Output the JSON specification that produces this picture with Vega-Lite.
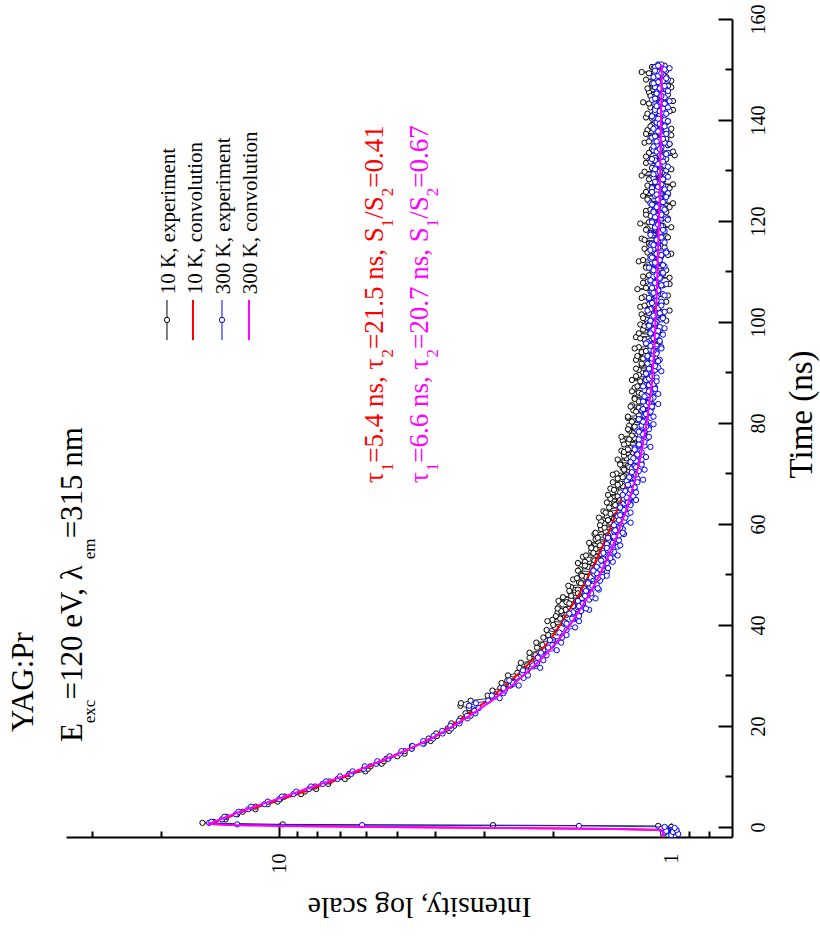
{
  "$schema": "https://vega.github.io/schema/vega-lite/v6.json",
  "width": 666,
  "height": 818,
  "autosize": {"type": "none"},
  "padding": {"left": 66, "top": 19, "right": 88, "bottom": 100},
  "background": "white",
  "datasets": {
    "k10": [
      {"t":-1.6,"i":0.98},{"t":-1.2,"i":1.04},{"t":-0.8,"i":0.97},{"t":-0.4,"i":1.02},{"t":0.0,"i":1.0},
      {"t":0.2,"i":1.08},{"t":0.35,"i":2.85},{"t":0.5,"i":9.8},{"t":0.8,"i":15.7},
      {"t":1.0,"i":14.7},{"t":1.5,"i":13.7},{"t":2.0,"i":13.65},{"t":2.5,"i":12.8},{"t":3.0,"i":12.4},
      {"t":3.5,"i":11.5},{"t":4.0,"i":11.5},{"t":4.5,"i":10.7},{"t":5.0,"i":10.1},{"t":5.5,"i":9.95},
      {"t":6.0,"i":9.7},{"t":6.5,"i":8.8},{"t":7.0,"i":8.6},{"t":7.5,"i":8.05},{"t":8.0,"i":8.1},
      {"t":8.5,"i":7.5},{"t":9.0,"i":7.45},{"t":9.5,"i":6.8},{"t":10.0,"i":6.68},{"t":10.5,"i":6.63},
      {"t":11.0,"i":6.03},{"t":11.5,"i":5.94},{"t":12.0,"i":5.85},{"t":12.5,"i":5.48},{"t":13.0,"i":5.41},
      {"t":13.5,"i":5.33},{"t":14.0,"i":5.0},{"t":14.5,"i":4.79},{"t":15.0,"i":4.79},{"t":15.5,"i":4.59},
      {"t":16.0,"i":4.59},{"t":16.5,"i":4.28},{"t":17.0,"i":4.11},{"t":17.5,"i":4.16},{"t":18.0,"i":3.96},
      {"t":18.5,"i":3.98},{"t":19.0,"i":3.69},{"t":19.5,"i":3.72},{"t":20.0,"i":3.58},{"t":20.5,"i":3.64},
      {"t":21.0,"i":3.46},{"t":21.5,"i":3.45},{"t":22.0,"i":3.25},{"t":22.5,"i":3.35},{"t":23.0,"i":3.18},
      {"t":23.5,"i":3.28},{"t":24.0,"i":3.45},{"t":24.5,"i":3.44},{"t":25.0,"i":3.25},{"t":25.5,"i":2.9},
      {"t":26.0,"i":2.94},{"t":26.5,"i":2.74},{"t":27.0,"i":2.86},{"t":27.5,"i":2.73},{"t":28.0,"i":2.57},
      {"t":28.5,"i":2.71},{"t":29.0,"i":2.62},{"t":29.5,"i":2.48},{"t":30.0,"i":2.61},{"t":30.5,"i":2.47},
      {"t":31.0,"i":2.33},{"t":31.5,"i":2.44},{"t":32.0,"i":2.33},{"t":32.5,"i":2.42},{"t":33.0,"i":2.21},
      {"t":33.5,"i":2.3},{"t":34.0,"i":2.22},{"t":34.5,"i":2.3},{"t":35.0,"i":2.12},{"t":35.5,"i":2.2},
      {"t":36.0,"i":2.13},{"t":36.5,"i":2.21},{"t":37.0,"i":2.0},{"t":37.5,"i":2.12},{"t":38.0,"i":2.06},
      {"t":38.5,"i":1.96},{"t":39.0,"i":2.08},{"t":39.5,"i":1.98},{"t":40.0,"i":2.0},{"t":40.5,"i":1.86},
      {"t":41.0,"i":2.01},{"t":41.5,"i":1.92},{"t":42.0,"i":1.85},{"t":42.5,"i":1.95},{"t":43.0,"i":1.86},
      {"t":43.5,"i":1.94},{"t":44.0,"i":1.76},{"t":44.5,"i":1.85},{"t":45.0,"i":1.8},{"t":45.5,"i":1.89},
      {"t":46.0,"i":1.72},{"t":46.5,"i":1.81},{"t":47.0,"i":1.73},{"t":47.5,"i":1.8},{"t":48.0,"i":1.64},
      {"t":48.5,"i":1.72},{"t":49.0,"i":1.78},{"t":49.5,"i":1.65},{"t":50.0,"i":1.7},{"t":50.5,"i":1.59},
      {"t":51.0,"i":1.71},{"t":51.5,"i":1.63},{"t":52.0,"i":1.58},{"t":52.5,"i":1.66},{"t":53.0,"i":1.58},
      {"t":53.5,"i":1.68},{"t":54.0,"i":1.51},{"t":54.5,"i":1.6},{"t":55.0,"i":1.56},{"t":55.5,"i":1.6},
      {"t":56.0,"i":1.46},{"t":56.5,"i":1.54},{"t":57.0,"i":1.56},{"t":57.5,"i":1.47},{"t":58.0,"i":1.57},
      {"t":58.5,"i":1.47},{"t":59.0,"i":1.51},{"t":59.5,"i":1.41},{"t":60.0,"i":1.48},{"t":60.5,"i":1.51},
      {"t":61.0,"i":1.4},{"t":61.5,"i":1.46},{"t":62.0,"i":1.43},{"t":62.5,"i":1.49},{"t":63.0,"i":1.34},
      {"t":63.5,"i":1.42},{"t":64.0,"i":1.44},{"t":64.5,"i":1.36},{"t":65.0,"i":1.43},{"t":65.5,"i":1.37},
      {"t":66.0,"i":1.31},{"t":66.5,"i":1.38},{"t":67.0,"i":1.43},{"t":67.5,"i":1.33},{"t":68.0,"i":1.35},
      {"t":68.5,"i":1.27},{"t":69.0,"i":1.37},{"t":69.5,"i":1.32},{"t":70.0,"i":1.38},{"t":70.5,"i":1.28},
      {"t":71.0,"i":1.33},{"t":71.5,"i":1.29},{"t":72.0,"i":1.35},{"t":72.5,"i":1.24},{"t":73.0,"i":1.3},
      {"t":73.5,"i":1.32},{"t":74.0,"i":1.25},{"t":74.5,"i":1.34},{"t":75.0,"i":1.27},{"t":75.5,"i":1.21},
      {"t":76.0,"i":1.29},{"t":76.5,"i":1.33},{"t":77.0,"i":1.24},{"t":77.5,"i":1.26},{"t":78.0,"i":1.17},
      {"t":78.5,"i":1.28},{"t":79.0,"i":1.24},{"t":79.5,"i":1.28},{"t":80.0,"i":1.19},{"t":80.5,"i":1.25},
      {"t":81.0,"i":1.29},{"t":81.5,"i":1.21},{"t":82.0,"i":1.16},{"t":82.5,"i":1.25},{"t":83.0,"i":1.21},
      {"t":83.5,"i":1.26},{"t":84.0,"i":1.15},{"t":84.5,"i":1.21},{"t":85.0,"i":1.24},{"t":85.5,"i":1.17},
      {"t":86.0,"i":1.21},{"t":86.5,"i":1.12},{"t":87.0,"i":1.24},{"t":87.5,"i":1.17},{"t":88.0,"i":1.19},
      {"t":88.5,"i":1.26},{"t":89.0,"i":1.13},{"t":89.5,"i":1.21},{"t":90.0,"i":1.16},{"t":90.5,"i":1.21},
      {"t":91.0,"i":1.1},{"t":91.5,"i":1.19},{"t":92.0,"i":1.16},{"t":92.5,"i":1.23},{"t":93.0,"i":1.1},
      {"t":93.5,"i":1.17},{"t":94.0,"i":1.19},{"t":94.5,"i":1.12},{"t":95.0,"i":1.21},{"t":95.5,"i":1.14},
      {"t":96.0,"i":1.07},{"t":96.5,"i":1.17},{"t":97.0,"i":1.23},{"t":97.5,"i":1.13},{"t":98.0,"i":1.08},
      {"t":98.5,"i":1.18},{"t":99.0,"i":1.15},{"t":99.5,"i":1.2},{"t":100.0,"i":1.1},{"t":100.5,"i":1.16},
      {"t":101.0,"i":1.05},{"t":101.5,"i":1.19},{"t":102.0,"i":1.12},{"t":102.5,"i":1.08},{"t":103.0,"i":1.2},
      {"t":103.5,"i":1.14},{"t":104.0,"i":1.03},{"t":104.5,"i":1.11},{"t":105.0,"i":1.17},{"t":105.5,"i":1.07},
      {"t":106.0,"i":1.13},{"t":106.5,"i":1.22},{"t":107.0,"i":1.09},{"t":107.5,"i":1.01},{"t":108.0,"i":1.15},
      {"t":108.5,"i":1.1},{"t":109.0,"i":1.18},{"t":109.5,"i":1.06},{"t":110.0,"i":1.12},{"t":110.5,"i":1.04},
      {"t":111.0,"i":1.16},{"t":111.5,"i":1.09},{"t":112.0,"i":1.21},{"t":112.5,"i":1.07},{"t":113.0,"i":1.13},
      {"t":113.5,"i":1.0},{"t":114.0,"i":1.11},{"t":114.5,"i":1.17},{"t":115.0,"i":1.06},{"t":115.5,"i":1.14},
      {"t":116.0,"i":1.09},{"t":116.5,"i":1.19},{"t":117.0,"i":1.03},{"t":117.5,"i":1.12},{"t":118.0,"i":1.08},
      {"t":118.5,"i":1.15},{"t":119.0,"i":1.05},{"t":119.5,"i":1.2},{"t":120.0,"i":1.1},{"t":120.5,"i":1.02},
      {"t":121.0,"i":1.13},{"t":121.5,"i":1.07},{"t":122.0,"i":1.16},{"t":122.5,"i":1.04},{"t":123.0,"i":1.11},
      {"t":123.5,"i":0.99},{"t":124.0,"i":1.14},{"t":124.5,"i":1.08},{"t":125.0,"i":1.18},{"t":125.5,"i":1.06},
      {"t":126.0,"i":1.12},{"t":126.5,"i":1.01},{"t":127.0,"i":1.15},{"t":127.5,"i":1.09},{"t":128.0,"i":1.05},
      {"t":128.5,"i":1.13},{"t":129.0,"i":1.19},{"t":129.5,"i":1.07},{"t":130.0,"i":1.03},{"t":130.5,"i":1.12},
      {"t":131.0,"i":1.08},{"t":131.5,"i":1.16},{"t":132.0,"i":1.04},{"t":132.5,"i":1.1},{"t":133.0,"i":0.98},
      {"t":133.5,"i":1.14},{"t":134.0,"i":1.07},{"t":134.5,"i":1.11},{"t":135.0,"i":1.02},{"t":135.5,"i":1.17},
      {"t":136.0,"i":1.06},{"t":136.5,"i":1.13},{"t":137.0,"i":1.0},{"t":137.5,"i":1.09},{"t":138.0,"i":1.15},
      {"t":138.5,"i":1.05},{"t":139.0,"i":1.12},{"t":139.5,"i":1.03},{"t":140.0,"i":1.08},{"t":140.5,"i":1.16},
      {"t":141.0,"i":1.04},{"t":141.5,"i":1.1},{"t":142.0,"i":0.99},{"t":142.5,"i":1.13},{"t":143.0,"i":1.07},
      {"t":143.5,"i":1.18},{"t":144.0,"i":1.05},{"t":144.5,"i":1.11},{"t":145.0,"i":1.02},{"t":145.5,"i":1.14},
      {"t":146.0,"i":1.08},{"t":146.5,"i":1.0},{"t":147.0,"i":1.12},{"t":147.5,"i":1.06},{"t":148.0,"i":1.16},
      {"t":148.5,"i":1.03},{"t":149.0,"i":1.1},{"t":149.5,"i":1.19},{"t":150.0,"i":1.05},{"t":150.5,"i":1.12},
      {"t":151.0,"i":1.08},
      {"t":40.25,"i":1.88},{"t":40.75,"i":2.07},{"t":41.25,"i":1.92},{"t":41.75,"i":1.97},{"t":42.25,"i":1.76},
      {"t":42.75,"i":1.91},{"t":43.25,"i":1.95},{"t":43.75,"i":1.78},{"t":44.25,"i":1.82},{"t":44.75,"i":1.94},
      {"t":45.25,"i":1.69},{"t":45.75,"i":1.8},{"t":46.25,"i":1.73},{"t":46.75,"i":1.82},{"t":47.25,"i":1.67},
      {"t":47.75,"i":1.83},{"t":48.25,"i":1.7},{"t":48.75,"i":1.58},{"t":49.25,"i":1.74},{"t":49.75,"i":1.69},
      {"t":50.25,"i":1.58},{"t":50.75,"i":1.73},{"t":51.25,"i":1.59},{"t":51.75,"i":1.66},{"t":52.25,"i":1.73},
      {"t":52.75,"i":1.57},{"t":53.25,"i":1.49},{"t":53.75,"i":1.65},{"t":54.25,"i":1.58},{"t":54.75,"i":1.5},
      {"t":55.25,"i":1.6},{"t":55.75,"i":1.52},{"t":56.25,"i":1.62},{"t":56.75,"i":1.44},{"t":57.25,"i":1.54},
      {"t":57.75,"i":1.45},{"t":58.25,"i":1.56},{"t":58.75,"i":1.38},{"t":59.25,"i":1.48},{"t":59.75,"i":1.52},
      {"t":60.25,"i":1.43},{"t":60.75,"i":1.45},{"t":61.25,"i":1.53},{"t":61.75,"i":1.38},{"t":62.25,"i":1.47},
      {"t":62.75,"i":1.33},{"t":63.25,"i":1.44},{"t":63.75,"i":1.39},{"t":64.25,"i":1.46},{"t":64.75,"i":1.35},
      {"t":65.25,"i":1.31},{"t":65.75,"i":1.45},{"t":66.25,"i":1.35},{"t":66.75,"i":1.4},{"t":67.25,"i":1.26},
      {"t":67.75,"i":1.37},{"t":68.25,"i":1.41},{"t":68.75,"i":1.29},{"t":69.25,"i":1.33},{"t":69.75,"i":1.41},
      {"t":70.25,"i":1.24},{"t":70.75,"i":1.32},{"t":71.25,"i":1.28},{"t":71.75,"i":1.35},{"t":72.25,"i":1.25},
      {"t":72.75,"i":1.37},{"t":73.25,"i":1.27},{"t":73.75,"i":1.19},{"t":74.25,"i":1.32},{"t":74.75,"i":1.29},
      {"t":75.25,"i":1.21},{"t":75.75,"i":1.32},{"t":76.25,"i":1.22},{"t":76.75,"i":1.28},{"t":77.25,"i":1.34},
      {"t":77.75,"i":1.22},{"t":78.25,"i":1.17},{"t":78.75,"i":1.29},{"t":79.25,"i":1.24},{"t":79.75,"i":1.18},
      {"t":80.25,"i":1.26},{"t":80.75,"i":1.21},{"t":81.25,"i":1.29},{"t":81.75,"i":1.15},{"t":82.25,"i":1.23},
      {"t":82.75,"i":1.17},{"t":83.25,"i":1.27},{"t":83.75,"i":1.12},{"t":84.25,"i":1.21},{"t":84.75,"i":1.24},
      {"t":85.25,"i":1.17},{"t":85.75,"i":1.19},{"t":86.25,"i":1.26},{"t":86.75,"i":1.14},{"t":87.25,"i":1.22},
      {"t":87.75,"i":1.11},{"t":88.25,"i":1.2},{"t":88.75,"i":1.16},{"t":89.25,"i":1.23},{"t":89.75,"i":1.13},
      {"t":90.25,"i":1.11},{"t":90.75,"i":1.23},{"t":91.25,"i":1.15},{"t":91.75,"i":1.19},{"t":92.25,"i":1.08},
      {"t":92.75,"i":1.18},{"t":93.25,"i":1.22},{"t":93.75,"i":1.12},{"t":94.25,"i":1.16},{"t":94.75,"i":1.24},
      {"t":95.25,"i":1.09},{"t":95.75,"i":1.16},{"t":96.25,"i":1.13},{"t":96.75,"i":1.2},{"t":97.25,"i":1.1},
      {"t":97.75,"i":1.21},{"t":98.25,"i":1.13},{"t":98.75,"i":1.06},{"t":99.25,"i":1.17},{"t":99.75,"i":1.15},
      {"t":100.25,"i":1.03},{"t":100.75,"i":1.18},{"t":101.25,"i":1.09},{"t":101.75,"i":1.14},{"t":102.25,"i":1.01},
      {"t":102.75,"i":1.12},{"t":103.25,"i":1.17},{"t":103.75,"i":1.06},{"t":104.25,"i":1.1},{"t":104.75,"i":1.19},
      {"t":105.25,"i":1.02},{"t":105.75,"i":1.11},{"t":106.25,"i":1.08},{"t":106.75,"i":1.16},{"t":107.25,"i":1.05},
      {"t":107.75,"i":1.18},{"t":108.25,"i":1.09},{"t":108.75,"i":1.01},{"t":109.25,"i":1.14},{"t":109.75,"i":1.11},
      {"t":110.25,"i":1.03},{"t":110.75,"i":1.16},{"t":111.25,"i":1.05},{"t":111.75,"i":1.12},{"t":112.25,"i":1.18},
      {"t":112.75,"i":1.07},{"t":113.25,"i":1.02},{"t":113.75,"i":1.15},{"t":114.25,"i":1.1},{"t":114.75,"i":1.04},
      {"t":115.25,"i":1.13},{"t":115.75,"i":1.08},{"t":116.25,"i":1.17},{"t":116.75,"i":1.02},{"t":117.25,"i":1.11},
      {"t":117.75,"i":1.05},{"t":118.25,"i":1.16},{"t":118.75,"i":1.0},{"t":119.25,"i":1.1},{"t":119.75,"i":1.14},
      {"t":120.25,"i":1.06},{"t":120.75,"i":1.09},{"t":121.25,"i":1.16},{"t":121.75,"i":1.03},{"t":122.25,"i":1.13},
      {"t":122.75,"i":1.01},{"t":123.25,"i":1.11},{"t":123.75,"i":1.07},{"t":124.25,"i":1.15},{"t":124.75,"i":1.04},
      {"t":125.25,"i":1.02},{"t":125.75,"i":1.16},{"t":126.25,"i":1.07},{"t":126.75,"i":1.12},{"t":127.25,"i":0.99},
      {"t":127.75,"i":1.1},{"t":128.25,"i":1.14},{"t":128.75,"i":1.04},{"t":129.25,"i":1.08},{"t":129.75,"i":1.17},
      {"t":130.25,"i":1.0},{"t":130.75,"i":1.09},{"t":131.25,"i":1.06},{"t":131.75,"i":1.13},{"t":132.25,"i":1.03},
      {"t":132.75,"i":1.16},{"t":133.25,"i":1.07},{"t":133.75,"i":0.99},{"t":134.25,"i":1.12},{"t":134.75,"i":1.09},
      {"t":135.25,"i":1.01},{"t":135.75,"i":1.14},{"t":136.25,"i":1.03},{"t":136.75,"i":1.1},{"t":137.25,"i":1.16},
      {"t":137.75,"i":1.06},{"t":138.25,"i":1.0},{"t":138.75,"i":1.13},{"t":139.25,"i":1.08},{"t":139.75,"i":1.02},
      {"t":140.25,"i":1.12},{"t":140.75,"i":1.07},{"t":141.25,"i":1.15},{"t":141.75,"i":1.01},{"t":142.25,"i":1.1},
      {"t":142.75,"i":1.03},{"t":143.25,"i":1.14},{"t":143.75,"i":0.99},{"t":144.25,"i":1.09},{"t":144.75,"i":1.13},
      {"t":145.25,"i":1.05},{"t":145.75,"i":1.08},{"t":146.25,"i":1.15},{"t":146.75,"i":1.02},{"t":147.25,"i":1.12},
      {"t":147.75,"i":1.0},{"t":148.25,"i":1.1},{"t":148.75,"i":1.06},{"t":149.25,"i":1.14},{"t":149.75,"i":1.03},
      {"t":150.25,"i":1.11},{"t":150.75,"i":1.04}
    ],
    "k300": [
      {"t":-1.6,"i":1.0},{"t":-1.4,"i":0.96},{"t":-1.2,"i":1.05},{"t":-1.0,"i":0.99},{"t":-0.8,"i":1.03},
      {"t":-0.6,"i":0.97},{"t":-0.4,"i":1.06},{"t":-0.2,"i":0.98},{"t":0.0,"i":1.04},
      {"t":0.2,"i":1.72},{"t":0.35,"i":6.15},{"t":0.5,"i":12.8},{"t":0.8,"i":15.1},
      {"t":1.0,"i":14.9},{"t":1.5,"i":14.0},{"t":2.0,"i":13.8},{"t":2.5,"i":12.9},{"t":3.0,"i":12.7},
      {"t":3.5,"i":12.0},{"t":4.0,"i":11.8},{"t":4.5,"i":10.9},{"t":5.0,"i":10.7},{"t":5.5,"i":10.0},
      {"t":6.0,"i":9.85},{"t":6.5,"i":9.2},{"t":7.0,"i":9.05},{"t":7.5,"i":8.4},{"t":8.0,"i":8.3},
      {"t":8.5,"i":7.75},{"t":9.0,"i":7.6},{"t":9.5,"i":7.1},{"t":10.0,"i":7.0},{"t":10.5,"i":6.55},
      {"t":11.0,"i":6.5},{"t":11.5,"i":6.08},{"t":12.0,"i":6.05},{"t":12.5,"i":5.66},{"t":13.0,"i":5.62},
      {"t":13.5,"i":5.27},{"t":14.0,"i":5.23},{"t":14.5,"i":4.91},{"t":15.0,"i":4.88},{"t":15.5,"i":4.59},
      {"t":16.0,"i":4.57},{"t":16.5,"i":4.3},{"t":17.0,"i":4.29},{"t":17.5,"i":4.05},{"t":18.0,"i":4.04},
      {"t":18.5,"i":3.83},{"t":19.0,"i":3.84},{"t":19.5,"i":3.64},{"t":20.0,"i":3.66},{"t":20.5,"i":3.47},
      {"t":21.0,"i":3.48},{"t":21.5,"i":3.31},{"t":22.0,"i":3.32},{"t":22.5,"i":3.16},{"t":23.0,"i":3.18},
      {"t":23.5,"i":3.1},{"t":24.0,"i":3.28},{"t":24.5,"i":3.15},
      {"t":25.0,"i":2.93},{"t":25.5,"i":2.74},{"t":26.0,"i":2.87},{"t":26.5,"i":2.68},{"t":27.0,"i":2.66},
      {"t":27.5,"i":2.68},{"t":28.0,"i":2.45},{"t":28.5,"i":2.54},{"t":29.0,"i":2.59},{"t":29.5,"i":2.38},
      {"t":30.0,"i":2.32},{"t":30.5,"i":2.4},{"t":31.0,"i":2.39},{"t":31.5,"i":2.16},{"t":32.0,"i":2.25},
      {"t":32.5,"i":2.2},{"t":33.0,"i":2.12},{"t":33.5,"i":2.19},{"t":34.0,"i":2.08},{"t":34.5,"i":2.15},
      {"t":35.0,"i":1.96},{"t":35.5,"i":2.06},{"t":36.0,"i":2.01},{"t":36.5,"i":1.91},{"t":37.0,"i":2.04},
      {"t":37.5,"i":1.9},{"t":38.0,"i":1.85},{"t":38.5,"i":1.93},{"t":39.0,"i":1.85},{"t":39.5,"i":1.76},
      {"t":40.0,"i":1.85},{"t":40.5,"i":1.87},{"t":41.0,"i":1.73},{"t":41.5,"i":1.78},{"t":42.0,"i":1.72},
      {"t":42.5,"i":1.78},{"t":43.0,"i":1.62},{"t":43.5,"i":1.73},{"t":44.0,"i":1.68},{"t":44.5,"i":1.73},
      {"t":45.0,"i":1.62},{"t":45.5,"i":1.59},{"t":46.0,"i":1.64},{"t":46.5,"i":1.66},{"t":47.0,"i":1.53},
      {"t":47.5,"i":1.61},{"t":48.0,"i":1.55},{"t":48.5,"i":1.63},{"t":49.0,"i":1.55},{"t":49.5,"i":1.5},
      {"t":50.0,"i":1.57},{"t":50.5,"i":1.46},{"t":51.0,"i":1.52},{"t":51.5,"i":1.55},{"t":52.0,"i":1.47},
      {"t":52.5,"i":1.41},{"t":53.0,"i":1.49},{"t":53.5,"i":1.45},{"t":54.0,"i":1.48},{"t":54.5,"i":1.4},
      {"t":55.0,"i":1.43},{"t":55.5,"i":1.37},{"t":56.0,"i":1.46},{"t":56.5,"i":1.38},{"t":57.0,"i":1.39},
      {"t":57.5,"i":1.4},{"t":58.0,"i":1.32},{"t":58.5,"i":1.4},{"t":59.0,"i":1.33},{"t":59.5,"i":1.36},
      {"t":60.0,"i":1.34},{"t":60.5,"i":1.32},
      {"t":61.0,"i":1.35},{"t":61.5,"i":1.37},{"t":62.0,"i":1.29},{"t":62.5,"i":1.33},{"t":63.0,"i":1.31},
      {"t":63.5,"i":1.35},{"t":64.0,"i":1.27},{"t":64.5,"i":1.3},{"t":65.0,"i":1.32},{"t":65.5,"i":1.25},
      {"t":66.0,"i":1.29},{"t":66.5,"i":1.31},{"t":67.0,"i":1.24},{"t":67.5,"i":1.28},{"t":68.0,"i":1.26},
      {"t":68.5,"i":1.3},{"t":69.0,"i":1.22},{"t":69.5,"i":1.27},{"t":70.0,"i":1.25},{"t":70.5,"i":1.21},
      {"t":71.0,"i":1.26},{"t":71.5,"i":1.24},{"t":72.0,"i":1.19},{"t":72.5,"i":1.23},{"t":73.0,"i":1.25},
      {"t":73.5,"i":1.18},{"t":74.0,"i":1.22},{"t":74.5,"i":1.2},{"t":75.0,"i":1.24},{"t":75.5,"i":1.17},
      {"t":76.0,"i":1.21},{"t":76.5,"i":1.19},{"t":77.0,"i":1.15},{"t":77.5,"i":1.2},{"t":78.0,"i":1.18},
      {"t":78.5,"i":1.22},{"t":79.0,"i":1.14},{"t":79.5,"i":1.19},{"t":80.0,"i":1.16},{"t":80.5,"i":1.2},
      {"t":81.0,"i":1.13},{"t":81.5,"i":1.17},{"t":82.0,"i":1.15},{"t":82.5,"i":1.19},{"t":83.0,"i":1.12},
      {"t":83.5,"i":1.16},{"t":84.0,"i":1.14},{"t":84.5,"i":1.18},{"t":85.0,"i":1.11},{"t":85.5,"i":1.15},
      {"t":86.0,"i":1.13},{"t":86.5,"i":1.17},{"t":87.0,"i":1.1},{"t":87.5,"i":1.14},{"t":88.0,"i":1.12},
      {"t":88.5,"i":1.16},{"t":89.0,"i":1.09},{"t":89.5,"i":1.13},{"t":90.0,"i":1.15},{"t":90.5,"i":1.1},
      {"t":91.0,"i":1.08},{"t":91.5,"i":1.14},{"t":92.0,"i":1.12},{"t":92.5,"i":1.07},{"t":93.0,"i":1.15},
      {"t":93.5,"i":1.11},{"t":94.0,"i":1.09},{"t":94.5,"i":1.13},{"t":95.0,"i":1.06},{"t":95.5,"i":1.12},
      {"t":96.0,"i":1.15},{"t":96.5,"i":1.08},{"t":97.0,"i":1.1},{"t":97.5,"i":1.05},{"t":98.0,"i":1.13},
      {"t":98.5,"i":1.11},{"t":99.0,"i":1.07},{"t":99.5,"i":1.14},{"t":100.0,"i":1.09},{"t":100.5,"i":1.06},
      {"t":101.0,"i":1.12},{"t":101.5,"i":1.1},{"t":102.0,"i":1.04},{"t":102.5,"i":1.13},{"t":103.0,"i":1.08},
      {"t":103.5,"i":1.11},{"t":104.0,"i":1.06},{"t":104.5,"i":1.14},{"t":105.0,"i":1.09},{"t":105.5,"i":1.05},
      {"t":106.0,"i":1.12},{"t":106.5,"i":1.08},{"t":107.0,"i":1.1},{"t":107.5,"i":1.03},{"t":108.0,"i":1.13},
      {"t":108.5,"i":1.07},{"t":109.0,"i":1.11},{"t":109.5,"i":1.05},{"t":110.0,"i":1.09},{"t":110.5,"i":1.12},
      {"t":111.0,"i":1.04},{"t":111.5,"i":1.1},{"t":112.0,"i":1.07},{"t":112.5,"i":1.13},{"t":113.0,"i":1.06},
      {"t":113.5,"i":1.09},{"t":114.0,"i":1.03},{"t":114.5,"i":1.11},{"t":115.0,"i":1.08},{"t":115.5,"i":1.12},
      {"t":116.0,"i":1.05},{"t":116.5,"i":1.09},{"t":117.0,"i":1.07},{"t":117.5,"i":1.13},{"t":118.0,"i":1.04},
      {"t":118.5,"i":1.1},{"t":119.0,"i":1.06},{"t":119.5,"i":1.08},{"t":120.0,"i":1.12},{"t":120.5,"i":1.03},
      {"t":121.0,"i":1.09},{"t":121.5,"i":1.06},{"t":122.0,"i":1.11},{"t":122.5,"i":1.05},{"t":123.0,"i":1.08},
      {"t":123.5,"i":1.13},{"t":124.0,"i":1.04},{"t":124.5,"i":1.07},{"t":125.0,"i":1.1},{"t":125.5,"i":1.02},
      {"t":126.0,"i":1.09},{"t":126.5,"i":1.12},{"t":127.0,"i":1.05},{"t":127.5,"i":1.08},{"t":128.0,"i":1.06},
      {"t":128.5,"i":1.11},{"t":129.0,"i":1.03},{"t":129.5,"i":1.09},{"t":130.0,"i":1.07},{"t":130.5,"i":1.12},
      {"t":131.0,"i":1.04},{"t":131.5,"i":1.08},{"t":132.0,"i":1.1},{"t":132.5,"i":1.05},{"t":133.0,"i":1.07},
      {"t":133.5,"i":1.02},{"t":134.0,"i":1.11},{"t":134.5,"i":1.06},{"t":135.0,"i":1.09},{"t":135.5,"i":1.04},
      {"t":136.0,"i":1.08},{"t":136.5,"i":1.12},{"t":137.0,"i":1.05},{"t":137.5,"i":1.07},{"t":138.0,"i":1.03},
      {"t":138.5,"i":1.1},{"t":139.0,"i":1.06},{"t":139.5,"i":1.09},{"t":140.0,"i":1.04},{"t":140.5,"i":1.11},
      {"t":141.0,"i":1.07},{"t":141.5,"i":1.05},{"t":142.0,"i":1.1},{"t":142.5,"i":1.02},{"t":143.0,"i":1.08},
      {"t":143.5,"i":1.06},{"t":144.0,"i":1.12},{"t":144.5,"i":1.04},{"t":145.0,"i":1.07},{"t":145.5,"i":1.09},
      {"t":146.0,"i":1.03},{"t":146.5,"i":1.1},{"t":147.0,"i":1.06},{"t":147.5,"i":1.08},{"t":148.0,"i":1.02},
      {"t":148.5,"i":1.11},{"t":149.0,"i":1.05},{"t":149.5,"i":1.08},{"t":150.0,"i":1.04},{"t":150.5,"i":1.1},
      {"t":151.0,"i":1.06},
      {"t":40.25,"i":1.85},{"t":40.75,"i":1.72},{"t":41.25,"i":1.79},{"t":41.75,"i":1.72},{"t":42.25,"i":1.82},
      {"t":42.75,"i":1.7},{"t":43.25,"i":1.65},{"t":43.75,"i":1.72},{"t":44.25,"i":1.68},{"t":44.75,"i":1.73},
      {"t":45.25,"i":1.56},{"t":45.75,"i":1.66},{"t":46.25,"i":1.6},{"t":46.75,"i":1.65},{"t":47.25,"i":1.54},
      {"t":47.75,"i":1.59},{"t":48.25,"i":1.63},{"t":48.75,"i":1.52},{"t":49.25,"i":1.54},{"t":49.75,"i":1.46},
      {"t":50.25,"i":1.55},{"t":50.75,"i":1.58},{"t":51.25,"i":1.45},{"t":51.75,"i":1.5},{"t":52.25,"i":1.46},
      {"t":52.75,"i":1.51},{"t":53.25,"i":1.43},{"t":53.75,"i":1.37},{"t":54.25,"i":1.49},{"t":54.75,"i":1.43},
      {"t":55.25,"i":1.46},{"t":55.75,"i":1.35},{"t":56.25,"i":1.41},{"t":56.75,"i":1.36},{"t":57.25,"i":1.45},
      {"t":57.75,"i":1.36},{"t":58.25,"i":1.33},{"t":58.75,"i":1.39},{"t":59.25,"i":1.35},{"t":59.75,"i":1.4},
      {"t":60.25,"i":1.27},{"t":60.75,"i":1.36},{"t":61.25,"i":1.31},{"t":61.75,"i":1.35},{"t":62.25,"i":1.27},
      {"t":62.75,"i":1.32},{"t":63.25,"i":1.35},{"t":63.75,"i":1.27},{"t":64.25,"i":1.29},{"t":64.75,"i":1.23},
      {"t":65.25,"i":1.3},{"t":65.75,"i":1.33},{"t":66.25,"i":1.23},{"t":66.75,"i":1.27},{"t":67.25,"i":1.24},
      {"t":67.75,"i":1.29},{"t":68.25,"i":1.22},{"t":68.75,"i":1.18},{"t":69.25,"i":1.28},{"t":69.75,"i":1.23},
      {"t":70.25,"i":1.26},{"t":70.75,"i":1.17},{"t":71.25,"i":1.23},{"t":71.75,"i":1.19},{"t":72.25,"i":1.27},
      {"t":72.75,"i":1.19},{"t":73.25,"i":1.16},{"t":73.75,"i":1.22},{"t":74.25,"i":1.19},{"t":74.75,"i":1.24},
      {"t":75.25,"i":1.13},{"t":75.75,"i":1.21},{"t":76.25,"i":1.17},{"t":76.75,"i":1.21},{"t":77.25,"i":1.14},
      {"t":77.75,"i":1.18},{"t":78.25,"i":1.21},{"t":78.75,"i":1.14},{"t":79.25,"i":1.16},{"t":79.75,"i":1.11},
      {"t":80.25,"i":1.18},{"t":80.75,"i":1.21},{"t":81.25,"i":1.11},{"t":81.75,"i":1.16},{"t":82.25,"i":1.13},
      {"t":82.75,"i":1.18},{"t":83.25,"i":1.12},{"t":83.75,"i":1.08},{"t":84.25,"i":1.18},{"t":84.75,"i":1.13},
      {"t":85.25,"i":1.17},{"t":85.75,"i":1.08},{"t":86.25,"i":1.14},{"t":86.75,"i":1.1},{"t":87.25,"i":1.18},
      {"t":87.75,"i":1.11},{"t":88.25,"i":1.09},{"t":88.75,"i":1.14},{"t":89.25,"i":1.12},{"t":89.75,"i":1.16},
      {"t":90.25,"i":1.06},{"t":90.75,"i":1.14},{"t":91.25,"i":1.1},{"t":91.75,"i":1.15},{"t":92.25,"i":1.08},
      {"t":92.75,"i":1.12},{"t":93.25,"i":1.15},{"t":93.75,"i":1.09},{"t":94.25,"i":1.11},{"t":94.75,"i":1.06},
      {"t":95.25,"i":1.13},{"t":95.75,"i":1.16},{"t":96.25,"i":1.07},{"t":96.75,"i":1.11},{"t":97.25,"i":1.09},
      {"t":97.75,"i":1.13},{"t":98.25,"i":1.08},{"t":98.75,"i":1.04},{"t":99.25,"i":1.14},{"t":99.75,"i":1.1},
      {"t":100.25,"i":1.13},{"t":100.75,"i":1.05},{"t":101.25,"i":1.11},{"t":101.75,"i":1.07},{"t":102.25,"i":1.15},
      {"t":102.75,"i":1.08},{"t":103.25,"i":1.06},{"t":103.75,"i":1.12},{"t":104.25,"i":1.09},{"t":104.75,"i":1.14},
      {"t":105.25,"i":1.04},{"t":105.75,"i":1.11},{"t":106.25,"i":1.08},{"t":106.75,"i":1.12},{"t":107.25,"i":1.06},
      {"t":107.75,"i":1.1},{"t":108.25,"i":1.13},{"t":108.75,"i":1.07},{"t":109.25,"i":1.09},{"t":109.75,"i":1.05},
      {"t":110.25,"i":1.11},{"t":110.75,"i":1.14},{"t":111.25,"i":1.05},{"t":111.75,"i":1.1},{"t":112.25,"i":1.07},
      {"t":112.75,"i":1.12},{"t":113.25,"i":1.06},{"t":113.75,"i":1.03},{"t":114.25,"i":1.13},{"t":114.75,"i":1.08},
      {"t":115.25,"i":1.11},{"t":115.75,"i":1.04},{"t":116.25,"i":1.09},{"t":116.75,"i":1.06},{"t":117.25,"i":1.13},
      {"t":117.75,"i":1.07},{"t":118.25,"i":1.05},{"t":118.75,"i":1.1},{"t":119.25,"i":1.08},{"t":119.75,"i":1.12},
      {"t":120.25,"i":1.02},{"t":120.75,"i":1.1},{"t":121.25,"i":1.06},{"t":121.75,"i":1.11},{"t":122.25,"i":1.04},
      {"t":122.75,"i":1.09},{"t":123.25,"i":1.12},{"t":123.75,"i":1.05},{"t":124.25,"i":1.08},{"t":124.75,"i":1.03},
      {"t":125.25,"i":1.09},{"t":125.75,"i":1.12},{"t":126.25,"i":1.04},{"t":126.75,"i":1.08},{"t":127.25,"i":1.06},
      {"t":127.75,"i":1.1},{"t":128.25,"i":1.05},{"t":128.75,"i":1.02},{"t":129.25,"i":1.11},{"t":129.75,"i":1.07},
      {"t":130.25,"i":1.1},{"t":130.75,"i":1.02},{"t":131.25,"i":1.08},{"t":131.75,"i":1.05},{"t":132.25,"i":1.12},
      {"t":132.75,"i":1.06},{"t":133.25,"i":1.03},{"t":133.75,"i":1.09},{"t":134.25,"i":1.07},{"t":134.75,"i":1.11},
      {"t":135.25,"i":1.01},{"t":135.75,"i":1.09},{"t":136.25,"i":1.05},{"t":136.75,"i":1.1},{"t":137.25,"i":1.03},
      {"t":137.75,"i":1.08},{"t":138.25,"i":1.11},{"t":138.75,"i":1.04},{"t":139.25,"i":1.07},{"t":139.75,"i":1.02},
      {"t":140.25,"i":1.08},{"t":140.75,"i":1.12},{"t":141.25,"i":1.03},{"t":141.75,"i":1.07},{"t":142.25,"i":1.05},
      {"t":142.75,"i":1.09},{"t":143.25,"i":1.04},{"t":143.75,"i":1.01},{"t":144.25,"i":1.1},{"t":144.75,"i":1.06},
      {"t":145.25,"i":1.09},{"t":145.75,"i":1.02},{"t":146.25,"i":1.07},{"t":146.75,"i":1.04},{"t":147.25,"i":1.11},
      {"t":147.75,"i":1.05},{"t":148.25,"i":1.03},{"t":148.75,"i":1.08},{"t":149.25,"i":1.06},{"t":149.75,"i":1.1},
      {"t":150.25,"i":1.01},{"t":150.75,"i":1.08}
    ],
    "c10": [
      {"t":-2,"i":1.06},{"t":-1,"i":1.06},{"t":-0.6,"i":1.07},{"t":-0.4,"i":1.35},{"t":-0.2,"i":2.6},
      {"t":0,"i":5.0},{"t":0.2,"i":9.0},{"t":0.4,"i":13.0},{"t":0.6,"i":15.0},{"t":0.75,"i":15.2},
      {"t":1,"i":14.6},{"t":1.5,"i":14.0},{"t":2,"i":13.4},{"t":3,"i":12.4},{"t":4,"i":11.3},{"t":5,"i":10.3},
      {"t":6,"i":9.4},{"t":7,"i":8.6},{"t":8,"i":8.0},{"t":9,"i":7.3},{"t":10,"i":6.75},{"t":12,"i":5.85},
      {"t":14,"i":5.1},{"t":16,"i":4.5},{"t":18,"i":4.0},{"t":20,"i":3.65},{"t":22,"i":3.35},{"t":25,"i":2.95},
      {"t":28,"i":2.65},{"t":31,"i":2.4},{"t":34,"i":2.2},{"t":37,"i":2.04},{"t":40,"i":1.92},{"t":43,"i":1.82},
      {"t":46,"i":1.72},{"t":50,"i":1.62},{"t":54,"i":1.53},{"t":58,"i":1.45},{"t":63,"i":1.37},{"t":68,"i":1.3},
      {"t":73,"i":1.25},{"t":80,"i":1.19},{"t":88,"i":1.145},{"t":95,"i":1.12},{"t":105,"i":1.1},{"t":115,"i":1.09},
      {"t":125,"i":1.08},{"t":135,"i":1.075},{"t":145,"i":1.07},{"t":151,"i":1.068}
    ],
    "c300": [
      {"t":-2,"i":1.05},{"t":-1,"i":1.05},{"t":-0.6,"i":1.06},{"t":-0.4,"i":1.4},{"t":-0.2,"i":2.9},
      {"t":0,"i":5.6},{"t":0.2,"i":9.8},{"t":0.4,"i":13.6},{"t":0.6,"i":15.1},{"t":0.75,"i":15.0},
      {"t":1,"i":14.7},{"t":1.5,"i":14.15},{"t":2,"i":13.6},{"t":3,"i":12.6},{"t":4,"i":11.6},{"t":5,"i":10.6},
      {"t":6,"i":9.7},{"t":7,"i":8.9},{"t":8,"i":8.2},{"t":9,"i":7.5},{"t":10,"i":6.9},{"t":12,"i":5.95},
      {"t":14,"i":5.15},{"t":16,"i":4.5},{"t":18,"i":3.98},{"t":20,"i":3.6},{"t":22,"i":3.27},{"t":25,"i":2.87},
      {"t":28,"i":2.55},{"t":31,"i":2.3},{"t":34,"i":2.1},{"t":37,"i":1.94},{"t":40,"i":1.81},{"t":43,"i":1.71},
      {"t":46,"i":1.62},{"t":50,"i":1.52},{"t":54,"i":1.44},{"t":58,"i":1.37},{"t":63,"i":1.3},{"t":68,"i":1.245},
      {"t":73,"i":1.2},{"t":80,"i":1.155},{"t":88,"i":1.12},{"t":95,"i":1.105},{"t":105,"i":1.09},{"t":115,"i":1.08},
      {"t":125,"i":1.07},{"t":135,"i":1.065},{"t":145,"i":1.06},{"t":151,"i":1.057}
    ]
  },
  "layer": [
    {
      "data": {"name": "k10"},
      "mark": {"type": "line", "color": "#000000", "strokeWidth": 0.8},
      "encoding": {
        "x": {
          "field": "i", "type": "quantitative",
          "scale": {"type": "log", "domain": [0.7, 35], "reverse": true, "nice": false},
          "axis": {
            "orient": "bottom",
            "values": [0.8, 0.9, 1, 2, 3, 4, 5, 6, 7, 8, 9, 10, 20, 30],
            "labelExpr": "datum.value === 1 ? '1' : datum.value === 10 ? '10' : ''",
            "tickSize": {"condition": {"test": "datum.value === 1 || datum.value === 10", "value": -14}, "value": -6},
            "labelAngle": 270, "labelAlign": "right", "labelBaseline": "middle",
            "labelPadding": 30, "labelOverlap": false, "labelFlush": false,
            "title": "Intensity, log scale",
            "titleAngle": 180, "titleAlign": "center", "titleBaseline": "alphabetic",
            "titleX": 353, "titleY": 60
          }
        },
        "y": {
          "field": "t", "type": "quantitative",
          "scale": {"domain": [-2, 160], "nice": false, "zero": false},
          "axis": {
            "orient": "right",
            "values": [0, 10, 20, 30, 40, 50, 60, 70, 80, 90, 100, 110, 120, 130, 140, 150, 160],
            "labelExpr": "datum.value % 20 === 0 ? '' + datum.value : ''",
            "tickSize": {"condition": {"test": "datum.value % 20 === 0", "value": -14}, "value": -7},
            "labelAngle": 270, "labelAlign": "center", "labelBaseline": "top",
            "labelPadding": 30, "labelOverlap": false, "labelFlush": false,
            "title": "Time (ns)",
            "titleAngle": 270, "titleAlign": "center", "titleBaseline": "alphabetic",
            "titleFontSize": 33,
            "titleX": 79, "titleY": 395
          }
        },
        "order": {"field": "t", "type": "quantitative"}
      }
    },
    {
      "data": {"name": "k10"},
      "mark": {"type": "point", "shape": "circle", "filled": true, "fill": "#ffffff", "stroke": "#000000", "strokeWidth": 1, "size": 28, "opacity": 1},
      "encoding": {"x": {"field": "i", "type": "quantitative"}, "y": {"field": "t", "type": "quantitative"}}
    },
    {
      "data": {"name": "c10"},
      "mark": {"type": "line", "color": "#ff0000", "strokeWidth": 2},
      "encoding": {"x": {"field": "i", "type": "quantitative"}, "y": {"field": "t", "type": "quantitative"}, "order": {"field": "t", "type": "quantitative"}}
    },
    {
      "data": {"name": "k300"},
      "mark": {"type": "line", "color": "#0000ff", "strokeWidth": 0.8},
      "encoding": {"x": {"field": "i", "type": "quantitative"}, "y": {"field": "t", "type": "quantitative"}, "order": {"field": "t", "type": "quantitative"}}
    },
    {
      "data": {"name": "k300"},
      "mark": {"type": "point", "shape": "circle", "filled": true, "fill": "#ffffff", "stroke": "#0000ff", "strokeWidth": 1, "size": 28, "opacity": 1},
      "encoding": {"x": {"field": "i", "type": "quantitative"}, "y": {"field": "t", "type": "quantitative"}}
    },
    {
      "data": {"name": "c300"},
      "mark": {"type": "line", "color": "#ff00ff", "strokeWidth": 2},
      "encoding": {"x": {"field": "i", "type": "quantitative"}, "y": {"field": "t", "type": "quantitative"}, "order": {"field": "t", "type": "quantitative"}}
    },

    {"data": {"values": [{}]}, "mark": {"type": "rule", "color": "#000000", "strokeWidth": 1}, "encoding": {"x": {"datum": 19.34}, "y": {"datum": 96.4}, "y2": {"datum": 104.35}}},
    {"data": {"values": [{}]}, "mark": {"type": "point", "shape": "circle", "filled": true, "fill": "#ffffff", "stroke": "#000000", "strokeWidth": 1, "size": 28, "opacity": 1}, "encoding": {"x": {"datum": 19.34}, "y": {"datum": 100.4}}},
    {"data": {"values": [{}]}, "mark": {"type": "rule", "color": "#ff0000", "strokeWidth": 2}, "encoding": {"x": {"datum": 16.6}, "y": {"datum": 96.4}, "y2": {"datum": 104.35}}},
    {"data": {"values": [{}]}, "mark": {"type": "rule", "color": "#0000ff", "strokeWidth": 1}, "encoding": {"x": {"datum": 14.0}, "y": {"datum": 96.4}, "y2": {"datum": 104.35}}},
    {"data": {"values": [{}]}, "mark": {"type": "point", "shape": "circle", "filled": true, "fill": "#ffffff", "stroke": "#0000ff", "strokeWidth": 1, "size": 28, "opacity": 1}, "encoding": {"x": {"datum": 14.0}, "y": {"datum": 100.4}}},
    {"data": {"values": [{}]}, "mark": {"type": "rule", "color": "#ff00ff", "strokeWidth": 2}, "encoding": {"x": {"datum": 11.95}, "y": {"datum": 96.4}, "y2": {"datum": 104.35}}},

    {"data": {"values": [{}]}, "mark": {"type": "text", "text": "10 K, experiment", "fontSize": 21, "color": "#000000"}, "encoding": {"x": {"datum": 18.46}, "y": {"datum": 105.5}}},
    {"data": {"values": [{}]}, "mark": {"type": "text", "text": "10 K, convolution", "fontSize": 21, "color": "#000000"}, "encoding": {"x": {"datum": 15.75}, "y": {"datum": 105.5}}},
    {"data": {"values": [{}]}, "mark": {"type": "text", "text": "300 K, experiment", "fontSize": 21, "color": "#000000"}, "encoding": {"x": {"datum": 13.36}, "y": {"datum": 105.5}}},
    {"data": {"values": [{}]}, "mark": {"type": "text", "text": "300 K, convolution", "fontSize": 21, "color": "#000000"}, "encoding": {"x": {"datum": 11.4}, "y": {"datum": 105.5}}},

    {"data": {"values": [{}]}, "mark": {"type": "text", "text": "YAG:Pr", "fontSize": 31, "color": "#000000"}, "encoding": {"x": {"datum": 42.5}, "y": {"datum": 18.8}}},
    {"data": {"values": [{}]}, "mark": {"type": "text", "text": "E", "fontSize": 31, "color": "#000000"}, "encoding": {"x": {"datum": 31.9}, "y": {"datum": 16.8}}},
    {"data": {"values": [{}]}, "mark": {"type": "text", "text": "exc", "fontSize": 17, "dx": 18.9, "dy": 13, "color": "#000000"}, "encoding": {"x": {"datum": 31.9}, "y": {"datum": 16.8}}},
    {"data": {"values": [{}]}, "mark": {"type": "text", "text": "=120 eV, λ", "fontSize": 31, "dx": 42.5, "color": "#000000"}, "encoding": {"x": {"datum": 31.9}, "y": {"datum": 16.8}}},
    {"data": {"values": [{}]}, "mark": {"type": "text", "text": "em", "fontSize": 17, "dx": 182.9, "dy": 13, "color": "#000000"}, "encoding": {"x": {"datum": 31.9}, "y": {"datum": 16.8}}},
    {"data": {"values": [{}]}, "mark": {"type": "text", "text": "=315 nm", "fontSize": 31, "dx": 203.7, "color": "#000000"}, "encoding": {"x": {"datum": 31.9}, "y": {"datum": 16.8}}},

    {"data": {"values": [{}]}, "mark": {"type": "text", "text": "τ", "fontSize": 27, "color": "#ff0000"}, "encoding": {"x": {"datum": 5.44}, "y": {"datum": 68.1}}},
    {"data": {"values": [{}]}, "mark": {"type": "text", "text": "1", "fontSize": 17, "dx": 11.9, "dy": 10, "color": "#ff0000"}, "encoding": {"x": {"datum": 5.44}, "y": {"datum": 68.1}}},
    {"data": {"values": [{}]}, "mark": {"type": "text", "text": "=5.4 ns, τ", "fontSize": 27, "dx": 20.4, "color": "#ff0000"}, "encoding": {"x": {"datum": 5.44}, "y": {"datum": 68.1}}},
    {"data": {"values": [{}]}, "mark": {"type": "text", "text": "2", "fontSize": 17, "dx": 125.5, "dy": 10, "color": "#ff0000"}, "encoding": {"x": {"datum": 5.44}, "y": {"datum": 68.1}}},
    {"data": {"values": [{}]}, "mark": {"type": "text", "text": "=21.5 ns, S", "fontSize": 27, "dx": 134.0, "color": "#ff0000"}, "encoding": {"x": {"datum": 5.44}, "y": {"datum": 68.1}}},
    {"data": {"values": [{}]}, "mark": {"type": "text", "text": "1", "fontSize": 17, "dx": 255.7, "dy": 10, "color": "#ff0000"}, "encoding": {"x": {"datum": 5.44}, "y": {"datum": 68.1}}},
    {"data": {"values": [{}]}, "mark": {"type": "text", "text": "/S", "fontSize": 27, "dx": 264.2, "color": "#ff0000"}, "encoding": {"x": {"datum": 5.44}, "y": {"datum": 68.1}}},
    {"data": {"values": [{}]}, "mark": {"type": "text", "text": "2", "fontSize": 17, "dx": 286.7, "dy": 10, "color": "#ff0000"}, "encoding": {"x": {"datum": 5.44}, "y": {"datum": 68.1}}},
    {"data": {"values": [{}]}, "mark": {"type": "text", "text": "=0.41", "fontSize": 27, "dx": 295.2, "color": "#ff0000"}, "encoding": {"x": {"datum": 5.44}, "y": {"datum": 68.1}}},

    {"data": {"values": [{}]}, "mark": {"type": "text", "text": "τ", "fontSize": 27, "color": "#ff00ff"}, "encoding": {"x": {"datum": 4.17}, "y": {"datum": 68.1}}},
    {"data": {"values": [{}]}, "mark": {"type": "text", "text": "1", "fontSize": 17, "dx": 11.9, "dy": 10, "color": "#ff00ff"}, "encoding": {"x": {"datum": 4.17}, "y": {"datum": 68.1}}},
    {"data": {"values": [{}]}, "mark": {"type": "text", "text": "=6.6 ns, τ", "fontSize": 27, "dx": 20.4, "color": "#ff00ff"}, "encoding": {"x": {"datum": 4.17}, "y": {"datum": 68.1}}},
    {"data": {"values": [{}]}, "mark": {"type": "text", "text": "2", "fontSize": 17, "dx": 125.5, "dy": 10, "color": "#ff00ff"}, "encoding": {"x": {"datum": 4.17}, "y": {"datum": 68.1}}},
    {"data": {"values": [{}]}, "mark": {"type": "text", "text": "=20.7 ns, S", "fontSize": 27, "dx": 134.0, "color": "#ff00ff"}, "encoding": {"x": {"datum": 4.17}, "y": {"datum": 68.1}}},
    {"data": {"values": [{}]}, "mark": {"type": "text", "text": "1", "fontSize": 17, "dx": 255.7, "dy": 10, "color": "#ff00ff"}, "encoding": {"x": {"datum": 4.17}, "y": {"datum": 68.1}}},
    {"data": {"values": [{}]}, "mark": {"type": "text", "text": "/S", "fontSize": 27, "dx": 264.2, "color": "#ff00ff"}, "encoding": {"x": {"datum": 4.17}, "y": {"datum": 68.1}}},
    {"data": {"values": [{}]}, "mark": {"type": "text", "text": "2", "fontSize": 17, "dx": 286.7, "dy": 10, "color": "#ff00ff"}, "encoding": {"x": {"datum": 4.17}, "y": {"datum": 68.1}}},
    {"data": {"values": [{}]}, "mark": {"type": "text", "text": "=0.67", "fontSize": 27, "dx": 295.2, "color": "#ff00ff"}, "encoding": {"x": {"datum": 4.17}, "y": {"datum": 68.1}}}
  ],
  "config": {
    "view": {"stroke": null},
    "axis": {
      "domainColor": "#000000", "domainWidth": 2,
      "tickColor": "#000000", "tickWidth": 2,
      "grid": false,
      "labelFont": "Liberation Serif", "labelFontSize": 20, "labelColor": "#000000",
      "titleFont": "Liberation Serif", "titleFontSize": 30, "titleFontWeight": "normal", "titleColor": "#000000"
    },
    "text": {"font": "Liberation Serif", "angle": 270, "align": "left", "baseline": "alphabetic"}
  }
}
